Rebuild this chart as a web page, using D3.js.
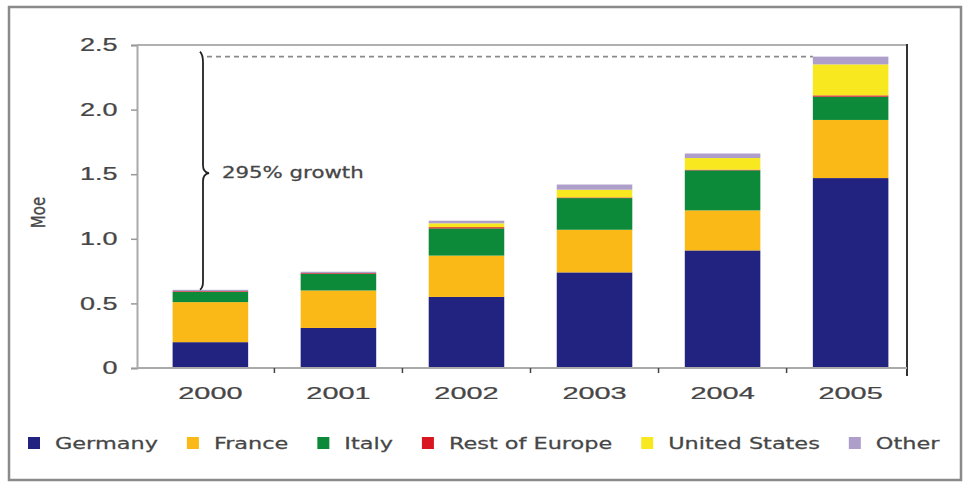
<!DOCTYPE html>
<html>
<head>
<meta charset="utf-8">
<script src="https://cdn.jsdelivr.net/npm/d3@7"></script>
<style>
  body { margin: 0; background: #fff; }
  svg { display: block; font-family: 'DejaVu Sans', sans-serif; }
</style>
</head>
<body>
<div id="chart"></div>
<script>
// values in Mtoe
const years = ['2000', '2001', '2002', '2003', '2004', '2005']
const germany = [0.20, 0.31, 0.55, 0.74, 0.91, 1.47]
const france = [0.31, 0.29, 0.32, 0.33, 0.31, 0.45]
const italy = [0.08, 0.13, 0.21, 0.245, 0.31, 0.18]
const restOfEurope = [0.005, 0.005, 0.01, 0.005, 0.005, 0.01]
const unitedStates = [0, 0, 0.03, 0.06, 0.09, 0.24]
const other = [0.01, 0.01, 0.02, 0.04, 0.035, 0.06]
const seriesNames = ['Germany', 'France', 'Italy', 'Rest of Europe', 'United States', 'Other']
const yTicks = [0, 0.5, 1.0, 1.5, 2.0, 2.5]
const growthLabel = '295% growth'
const yLabel = 'Moe'

const width = 969
const height = 484
const plot = { left: 137, right: 907, top: 45, bottom: 368 }
const fills = ['#222380', '#fbb918', '#0c8a3a', '#d9161f', '#f8e81f', '#ad9fca']
const ink = '#464646'

const rows = years.map((year, i) => ({
  year,
  Germany: germany[i],
  France: france[i],
  Italy: italy[i],
  'Rest of Europe': restOfEurope[i],
  'United States': unitedStates[i],
  Other: other[i]
}))
const stacked = d3.stack().keys(seriesNames)(rows)
const totals = rows.map((r) => d3.sum(seriesNames, (k) => r[k]))

const svg = d3.select('#chart').append('svg').attr('width', width).attr('height', height)

// the source picture is squeezed wide, so text gets a horizontal stretch below
const inked = (sel, size) =>
  sel.attr('fill', ink).attr('stroke', ink).attr('stroke-width', 0.25)
    .attr('font-size', size)

// outer frame
svg.append('rect')
  .attr('x', 9).attr('y', 7).attr('width', 952).attr('height', 473)
  .attr('fill', 'none').attr('stroke', '#8a8a8a').attr('stroke-width', 2.5)

const x = d3.scaleBand().domain(years).range([147, 914]).paddingInner(0.41).paddingOuter(0.2)
const y = d3.scaleLinear().domain([0, 2.5]).range([plot.bottom, plot.top])

// plot frame: top gray, right dark
svg.append('line')
  .attr('x1', plot.left).attr('x2', plot.right).attr('y1', plot.top).attr('y2', plot.top)
  .attr('stroke', '#b0b0b0').attr('stroke-width', 2)
svg.append('line')
  .attr('x1', plot.right).attr('x2', plot.right).attr('y1', plot.top - 1).attr('y2', plot.bottom + 8)
  .attr('stroke', '#333').attr('stroke-width', 2)

// bars
svg.append('g')
  .selectAll('g')
  .data(stacked)
  .join('g')
  .attr('fill', (d, i) => fills[i])
  .selectAll('rect')
  .data((d) => d)
  .join('rect')
  .attr('x', (d) => x(d.data.year))
  .attr('width', x.bandwidth())
  .attr('y', (d) => y(d[1]))
  .attr('height', (d) => y(d[0]) - y(d[1]))

// y axis
const yAxis = svg.append('g')
  .attr('transform', `translate(${plot.left},0)`)
  .call(d3.axisLeft(y).tickValues(yTicks).tickSize(6).tickPadding(7)
    .tickFormat((d) => (d === 0 ? '0' : d3.format('.1f')(d))))
yAxis.select('.domain').attr('stroke', '#aaa').attr('stroke-width', 2)
yAxis.selectAll('.tick line').attr('stroke', '#999').attr('stroke-width', 1.5)
inked(yAxis.selectAll('.tick text'), 18)
  .attr('transform', 'scale(1.5,1)')

// x axis
const xAxis = svg.append('g')
  .attr('transform', `translate(0,${plot.bottom})`)
  .call(d3.axisBottom(x).tickSize(0).tickPadding(19))
xAxis.select('.domain').attr('d', `M${plot.left},0H${plot.right}`)
  .attr('stroke', '#aaa').attr('stroke-width', 2)
inked(xAxis.selectAll('.tick text'), 17)
  .attr('transform', 'scale(1.7,1)')
// small ticks between the years
const gap = (x.step() - x.bandwidth()) / 2
xAxis.selectAll('.sep')
  .data(years.slice(1))
  .join('line')
  .attr('class', 'sep')
  .attr('x1', (d) => x(d) - gap).attr('x2', (d) => x(d) - gap)
  .attr('y1', 0).attr('y2', 5)
  .attr('stroke', '#444').attr('stroke-width', 1.5)

// y label
inked(svg.append('text'), 15)
  .attr('transform', `translate(45,${(plot.top + plot.bottom) / 2 + 6}) scale(1.3,1) rotate(-90)`)
  .attr('text-anchor', 'middle')
  .text(yLabel)

// growth marker: dashed level line and brace
const top2005 = y(totals[totals.length - 1])
const top2000 = y(totals[0])
const braceX = 203
svg.append('line')
  .attr('x1', braceX + 4).attr('x2', x(years[years.length - 1]))
  .attr('y1', top2005).attr('y2', top2005)
  .attr('stroke', '#8a8a8a').attr('stroke-width', 1.6).attr('stroke-dasharray', '5,4')

const mid = (top2005 + top2000) / 2
const brace = d3.path()
brace.moveTo(braceX - 3, top2005 - 5)
brace.quadraticCurveTo(braceX, top2005 - 2, braceX, top2005 + 6)
brace.lineTo(braceX, mid - 8)
brace.quadraticCurveTo(braceX, mid - 1, braceX + 6, mid)
brace.quadraticCurveTo(braceX, mid + 1, braceX, mid + 8)
brace.lineTo(braceX, top2000 - 8)
brace.quadraticCurveTo(braceX, top2000 - 2, braceX - 3, top2000)
svg.append('path')
  .attr('d', brace.toString())
  .attr('fill', 'none').attr('stroke', '#222').attr('stroke-width', 1.8)

inked(svg.append('text'), 15)
  .attr('transform', `translate(222,${mid + 5}) scale(1.42,1)`)
  .text(growthLabel)

// legend, laid out in a row
const legend = svg.append('g').attr('transform', 'translate(0,443)')
let lx = 28
seriesNames.forEach((name, i) => {
  legend.append('rect')
    .attr('x', lx).attr('y', -6).attr('width', 12).attr('height', 12)
    .attr('fill', fills[i])
  const t = inked(legend.append('text'), 16)
    .attr('transform', `translate(${lx + 27},6) scale(1.4,1)`)
    .text(name)
  lx += 27 + t.node().getComputedTextLength() * 1.4 + 29
})
</script>
</body>
</html>
